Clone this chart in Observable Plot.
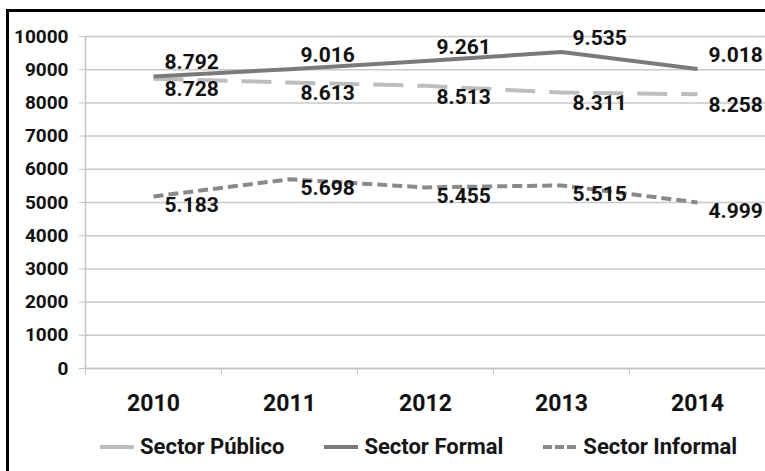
<!DOCTYPE html>
<html>
<head>
<meta charset="utf-8">
<script src="https://cdn.jsdelivr.net/npm/d3@7"></script>
<script src="https://cdn.jsdelivr.net/npm/@observablehq/plot@0.6"></script>
<style>
  html, body { margin: 0; padding: 0; background: #fff; }
  #wrap { position: relative; width: 765px; height: 471px; overflow: hidden; font-family: Roboto, "DejaVu Sans", sans-serif; }
  #frame { position: absolute; left: 6px; top: 9px; width: 900px; height: 600px; border-left: 3px solid #000; border-top: 3px solid #000; }
  #chart { position: absolute; left: 0; top: 0; }
  #legend { position: absolute; left: 100px; top: 434px; display: flex; align-items: center; gap: 40px; font-size: 22px; font-weight: bold; color: #151515; }
  .item { display: flex; align-items: center; }
  .item svg { display: block; margin-right: 6px; }
</style>
</head>
<body>
<div id="wrap">
  <div id="frame"></div>
  <div id="chart"></div>
  <div id="legend"></div>
</div>
<script>
const years = [2010, 2011, 2012, 2013, 2014];
const seriesNames = ["Sector Público", "Sector Formal", "Sector Informal"];
const publico = [8728, 8613, 8513, 8311, 8258];
const formal = [8792, 9016, 9261, 9535, 9018];
const informal = [5183, 5698, 5455, 5515, 4999];
const yTicks = [0, 1000, 2000, 3000, 4000, 5000, 6000, 7000, 8000, 9000, 10000];
const yearTickLabels = ["2010", "2011", "2012", "2013", "2014"];

const values = [publico, formal, informal];
const styles = [
  {stroke: "#bdbdbd", strokeWidth: 4, strokeDasharray: "30,14", dy: 11},
  {stroke: "#7a7a7a", strokeWidth: 4, strokeDasharray: null, dy: -14},
  {stroke: "#8a8a8a", strokeWidth: 4, strokeDasharray: "10,5", dy: 9}
];

const rows = seriesNames.map((s, i) => years.map((yr, j) => ({series: s, year: yr, value: values[i][j]})));
const boundaries = [years[0] - 0.5, ...years.map(y => y + 0.5)];

const lineMarks = rows.map((r, i) => Plot.line(r, {
  x: "year", y: "value", stroke: styles[i].stroke, strokeWidth: styles[i].strokeWidth,
  strokeDasharray: styles[i].strokeDasharray, strokeLinecap: "butt", strokeLinejoin: "round"
}));
const textMarks = rows.map((r, i) => Plot.text(r, {
  x: "year", y: "value", text: d => (d.value / 1000).toFixed(3),
  textAnchor: "start", dx: 11, dy: styles[i].dy, fontSize: 21, fontWeight: "bold", fill: "#111"
}));

const plot = Plot.plot({
  width: 765, height: 420,
  marginLeft: 85, marginRight: 0, marginTop: 36, marginBottom: 52,
  style: {fontFamily: "Roboto, 'DejaVu Sans', sans-serif", background: "transparent", color: "#111"},
  x: {domain: [boundaries[0], boundaries[boundaries.length - 1]]},
  y: {domain: [0, 10000]},
  marks: [
    Plot.gridY(yTicks, {stroke: "#c9c9c9", strokeOpacity: 1, strokeWidth: 1.5}),
    Plot.ruleX([boundaries[0]], {stroke: "#c4c4c4", strokeWidth: 1.5}),
    Plot.ruleY([0], {stroke: "#c4c4c4", strokeWidth: 1.5}),
    Plot.axisY({ticks: yTicks, tickSize: 6, tickPadding: 11, tickFormat: d => String(d),
      fontSize: 19, fontWeight: "bold", stroke: "#c4c4c4", fill: "#111", label: null}),
    Plot.axisX({ticks: boundaries, tickSize: 6, tickFormat: () => "", stroke: "#c4c4c4", label: null}),
    Plot.axisX({ticks: years, tickSize: 0, tickPadding: 26, tickFormat: d => yearTickLabels[years.indexOf(d)],
      fontSize: 23, fontWeight: "bold", fill: "#111", label: null}),
    ...lineMarks,
    ...textMarks
  ]
});
document.getElementById("chart").appendChild(plot);

const legend = document.getElementById("legend");
seriesNames.forEach((name, i) => {
  const item = document.createElement("div");
  item.className = "item";
  const ns = "http://www.w3.org/2000/svg";
  const sw = document.createElementNS(ns, "svg");
  sw.setAttribute("width", 34); sw.setAttribute("height", 10);
  const ln = document.createElementNS(ns, "line");
  ln.setAttribute("x1", 0); ln.setAttribute("x2", 34); ln.setAttribute("y1", 5); ln.setAttribute("y2", 5);
  ln.setAttribute("stroke", styles[i].stroke);
  ln.setAttribute("stroke-width", styles[i].strokeWidth);
  if (i === 2) ln.setAttribute("stroke-dasharray", "9,3");
  sw.appendChild(ln);
  item.appendChild(sw);
  const t = document.createElement("span");
  t.textContent = name;
  item.appendChild(t);
  legend.appendChild(item);
});
</script>
</body>
</html>
